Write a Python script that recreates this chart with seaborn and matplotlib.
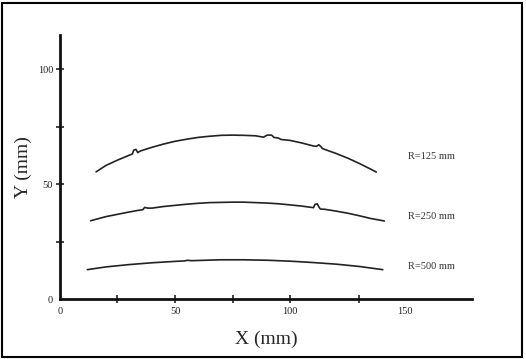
import pandas as pd
import numpy as np
import matplotlib
matplotlib.use('Agg')
import matplotlib.pyplot as plt
import seaborn as sns
from matplotlib.patches import Rectangle

# profile (mm)
x125 = [15.7, 20, 25, 30, 31.5, 32.0, 33.0, 33.8, 35, 40, 45, 50, 55, 60, 65, 70, 75, 80, 85,
        88.5, 90, 92, 93, 95, 96, 100, 105, 110, 111.5, 112.5, 113.5, 114, 115, 120, 125, 130, 135, 137.5]
y125 = [55.4, 58.2, 60.5, 62.6, 63.2, 64.8, 65.2, 63.8, 64.5, 66.1, 67.5, 68.7, 69.6, 70.4, 70.9, 71.3, 71.4, 71.3, 71.1,
        70.5, 71.4, 71.4, 70.4, 70.1, 69.5, 69.1, 68.0, 66.7, 66.5, 67.2, 66.3, 65.6, 65.2, 63.4, 61.4, 59.1, 56.6, 55.3]

x250 = [13.3, 20, 25, 30, 35, 36.0, 36.8, 38.2, 40, 45, 50, 55, 60, 65, 70, 75, 80, 85, 90, 95, 100, 105,
        110.2, 110.8, 111.8, 112.6, 113.2, 115, 120, 125, 130, 135, 141]
y250 = [34.1, 35.9, 36.9, 37.9, 38.8, 38.9, 39.9, 39.6, 39.6, 40.3, 40.8, 41.3, 41.7, 42.0, 42.1, 42.2, 42.2, 42.0, 41.8, 41.5, 41.0, 40.5,
        39.8, 41.2, 41.5, 40.0, 39.2, 39.1, 38.3, 37.4, 36.3, 35.1, 34.0]

x500 = [11.9, 20, 30, 40, 50, 54, 55.5, 57, 60, 70, 80, 90, 100, 110, 120, 130, 140.3]
y500 = [12.8, 14.0, 15.0, 15.8, 16.4, 16.6, 16.9, 16.7, 16.8, 17.1, 17.1, 16.9, 16.5, 15.9, 15.2, 14.2, 12.8]

labels = ['R=125 mm', 'R=250 mm', 'R=500 mm']
label_y = [62.2, 35.8, 14.0]

sns.set_style('white')
plt.rcParams['font.family'] = ['Liberation Serif', 'DejaVu Serif']

fig = plt.figure(figsize=(5.26, 3.59), dpi=100)
ax = fig.add_axes([0.114, 0.167, 0.783, 0.7355])

for xs, ys in [(x125, y125), (x250, y250), (x500, y500)]:
    df = pd.DataFrame({'x': xs, 'y': ys})
    sns.lineplot(data=df, x='x', y='y', sort=False, color='#222222', lw=1.2, ax=ax)

for lab, ly in zip(labels, label_y):
    ax.text(151.3, ly, lab, fontsize=7.5, va='center', ha='left', color='#333333')

ax.set_xlim(0, 179)
ax.set_ylim(0, 115)
ax.set_xticks([0, 25, 50, 75, 100, 130, 150])
ax.set_xticklabels(['0', '', '50', '', '100', '', '150'])
ax.set_yticks([0, 25, 50, 75, 100])
ax.set_yticklabels(['0', '', '50', '', '100'])
ax.tick_params(bottom=True, left=True, direction='inout', length=6, width=1.2,
               labelsize=7.5, colors='#222222', pad=2)
ax.tick_params(axis='x', pad=3)
# no tick mark drawn at 0 and 150 on x
xt = ax.xaxis.get_major_ticks()
for i in (0, 6):
    xt[i].tick1line.set_visible(False)
ax.yaxis.get_major_ticks()[0].tick1line.set_visible(False)
for s in ['top', 'right']:
    ax.spines[s].set_visible(False)
for s in ['left', 'bottom']:
    ax.spines[s].set_linewidth(2)
    ax.spines[s].set_color('#111111')
ax.set_xlabel('X (mm)', fontsize=14, labelpad=10)
ax.set_ylabel('Y (mm)', fontsize=14, labelpad=4)

fig.patches.append(Rectangle((1.5 / 526, 2 / 359), 520 / 526, 354 / 359, transform=fig.transFigure,
                             fill=False, edgecolor='black', lw=1.5))

fig.savefig('out.png', dpi=100)
